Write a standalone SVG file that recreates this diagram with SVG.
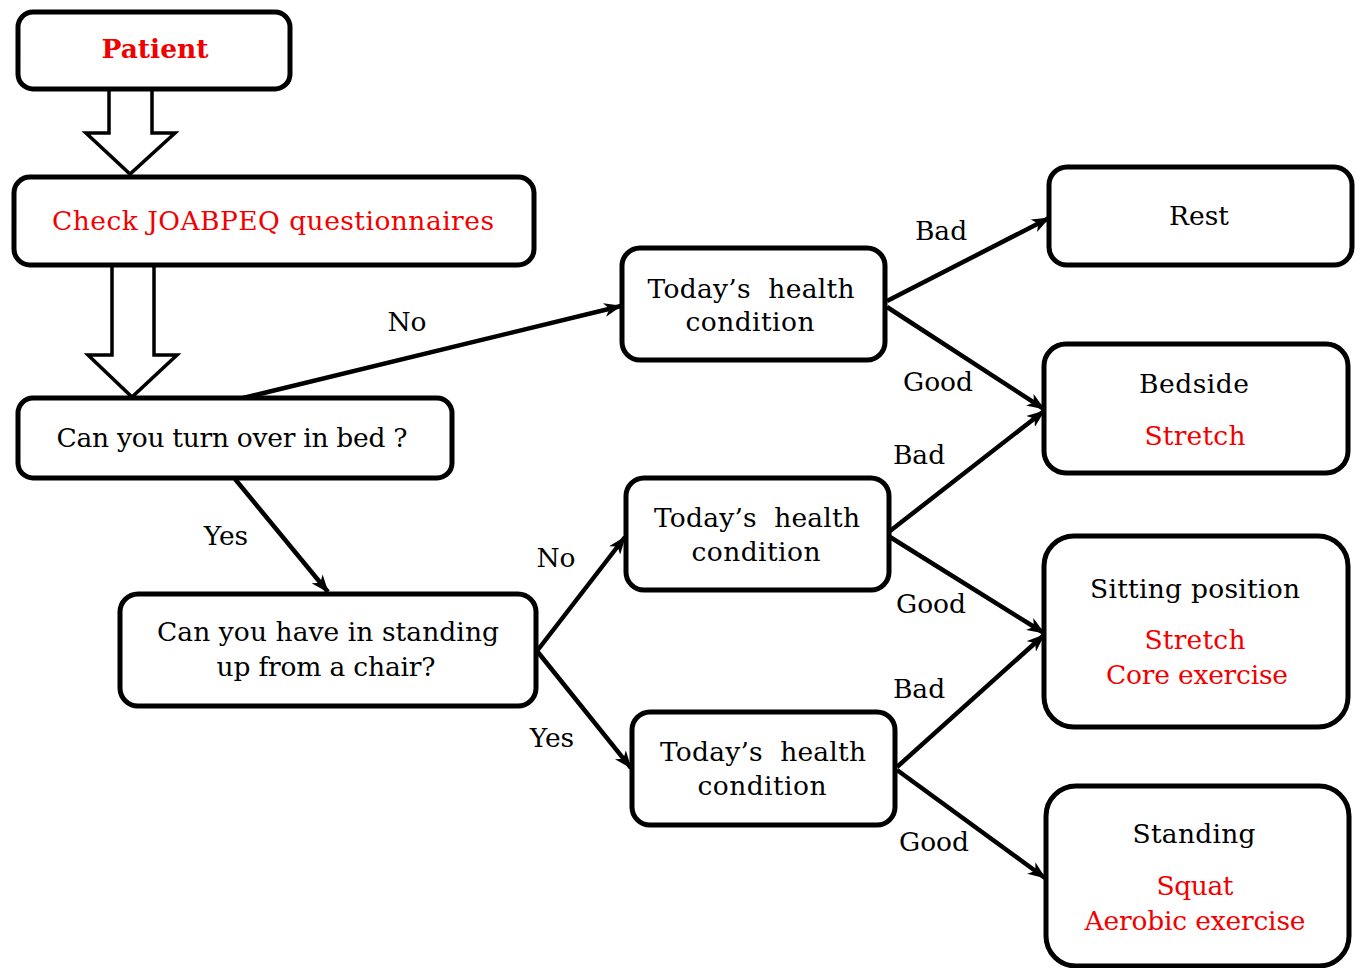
<svg xmlns="http://www.w3.org/2000/svg" width="1356" height="968" viewBox="0 0 1356 968">
<style>
.box{fill:#fff;stroke:#000;stroke-width:5}
.t{font-family:"DejaVu Serif","Liberation Serif",serif;font-size:26.5px;fill:#000;text-anchor:middle}
.r{fill:#f20000}
.b{font-weight:bold}
.c{fill:none;stroke:#000;stroke-width:4.5}
.h{fill:#fff;stroke:#000;stroke-width:3.5;stroke-linejoin:miter}
</style>
<defs>
<marker id="ah" markerUnits="userSpaceOnUse" viewBox="0 0 18 14" refX="17" refY="7" markerWidth="18" markerHeight="14" orient="auto">
<path d="M0,0 L18,7 L0,14 L5,7 z" fill="#000"/>
</marker>
</defs>
<rect width="1356" height="968" fill="#fff"/>
<g id="connectors">
<path class="h" d="M109,89 V133 H86 L130,174 L175,133 H152 V89"/>
<path class="h" d="M112,266 V355 H88 L132,397 L177,355 H154 V266"/>
<line class="c" x1="243" y1="398" x2="621" y2="306" marker-end="url(#ah)"/>
<line class="c" x1="235" y1="479" x2="328" y2="592" marker-end="url(#ah)"/>
<line class="c" x1="537" y1="651" x2="625" y2="537" marker-end="url(#ah)"/>
<line class="c" x1="537" y1="651" x2="631" y2="768" marker-end="url(#ah)"/>
<line class="c" x1="887" y1="301" x2="1049" y2="218" marker-end="url(#ah)"/>
<line class="c" x1="887" y1="307" x2="1044" y2="409" marker-end="url(#ah)"/>
<line class="c" x1="890" y1="531" x2="1044" y2="411" marker-end="url(#ah)"/>
<line class="c" x1="890" y1="537" x2="1044" y2="633" marker-end="url(#ah)"/>
<line class="c" x1="897" y1="767" x2="1044" y2="635" marker-end="url(#ah)"/>
<line class="c" x1="897" y1="770" x2="1045" y2="878" marker-end="url(#ah)"/>
<text class="t" x="407" y="331">No</text>
<text class="t" x="226" y="545">Yes</text>
<text class="t" x="556" y="567">No</text>
<text class="t" x="552" y="747">Yes</text>
<text class="t" x="941" y="240">Bad</text>
<text class="t" x="938" y="391">Good</text>
<text class="t" x="919" y="464">Bad</text>
<text class="t" x="931" y="613">Good</text>
<text class="t" x="919" y="698">Bad</text>
<text class="t" x="934" y="851">Good</text>
</g>
<g id="patient">
<rect class="box" x="18" y="12" width="272" height="77" rx="15"/>
<text class="t r b" x="155" y="58" textLength="107">Patient</text>
</g>
<g id="check">
<rect class="box" x="14" y="177" width="520" height="88" rx="16"/>
<text class="t r" x="273" y="230" textLength="442">Check JOABPEQ questionnaires</text>
</g>
<g id="turnover">
<rect class="box" x="18" y="398" width="434" height="80" rx="15"/>
<text class="t" x="232" y="447" textLength="351">Can you turn over in bed ?</text>
</g>
<g id="standup">
<rect class="box" x="120" y="594" width="416" height="112" rx="18"/>
<text class="t" x="328" y="641" textLength="342">Can you have in standing</text>
<text class="t" x="326" y="676" textLength="219">up from a chair?</text>
</g>
<g id="today1">
<rect class="box" x="622" y="248" width="263" height="112" rx="18"/>
<text class="t" x="751" y="298" textLength="207" xml:space="preserve">Today’s  health</text>
<text class="t" x="750" y="331" textLength="129">condition</text>
</g>
<g id="today2">
<rect class="box" x="626" y="478" width="263" height="112" rx="18"/>
<text class="t" x="757" y="527" textLength="206" xml:space="preserve">Today’s  health</text>
<text class="t" x="756" y="561" textLength="129">condition</text>
</g>
<g id="today3">
<rect class="box" x="632" y="712" width="263" height="113" rx="18"/>
<text class="t" x="763" y="761" textLength="206" xml:space="preserve">Today’s  health</text>
<text class="t" x="762" y="795" textLength="129">condition</text>
</g>
<g id="rest">
<rect class="box" x="1049" y="167" width="303" height="98" rx="18"/>
<text class="t" x="1199" y="225" textLength="60">Rest</text>
</g>
<g id="bedside">
<rect class="box" x="1044" y="344" width="304" height="129" rx="22"/>
<text class="t" x="1194" y="393" textLength="110">Bedside</text>
<text class="t r" x="1195" y="445" textLength="101">Stretch</text>
</g>
<g id="sitting">
<rect class="box" x="1044" y="536" width="304" height="191" rx="30"/>
<text class="t" x="1195" y="598" textLength="210">Sitting position</text>
<text class="t r" x="1195" y="649" textLength="101">Stretch</text>
<text class="t r" x="1197" y="684" textLength="182">Core exercise</text>
</g>
<g id="standing">
<rect class="box" x="1046" y="786" width="303" height="180" rx="30"/>
<text class="t" x="1194" y="843" textLength="123">Standing</text>
<text class="t r" x="1195" y="895" textLength="77">Squat</text>
<text class="t r" x="1195" y="930" textLength="221">Aerobic exercise</text>
</g>
</svg>
